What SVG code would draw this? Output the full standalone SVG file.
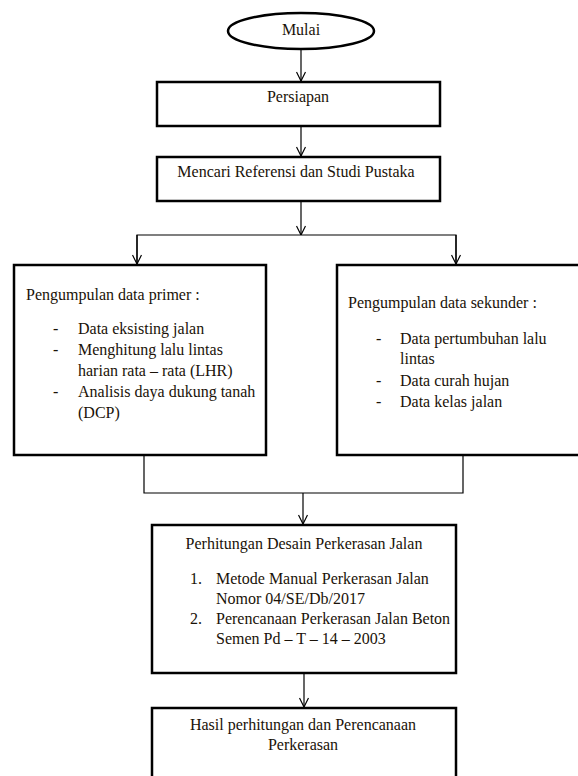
<svg xmlns="http://www.w3.org/2000/svg" width="578" height="776" viewBox="0 0 578 776">
<style>
  .box { fill: #ffffff; stroke: #000000; stroke-width: 2.5; }
  .conn { fill: none; stroke: #000000; stroke-width: 1.2; }
  text { font-family: "Liberation Serif", "Times New Roman", serif; font-size: 16px; fill: #1a1208; }
  .c { text-anchor: middle; }
</style>
<defs>
  <marker id="arr" viewBox="0 0 10 10" refX="10" refY="5" markerWidth="10" markerHeight="10" markerUnits="userSpaceOnUse" orient="auto">
    <path d="M1,0.5 L10,5 L1,9.5" fill="none" stroke="#000" stroke-width="1.2"/>
  </marker>
</defs>
<rect width="578" height="776" fill="#ffffff"/>

<g id="connectors">
  <line class="conn" x1="301" y1="49" x2="301" y2="81" marker-end="url(#arr)"/>
  <line class="conn" x1="301" y1="126" x2="301" y2="156" marker-end="url(#arr)"/>
  <line class="conn" x1="301" y1="201" x2="301" y2="235" marker-end="url(#arr)"/>
  <polyline class="conn" points="137,264 137,235 456,235 456,264"/>
  <line class="conn" x1="137" y1="235" x2="137" y2="264" marker-end="url(#arr)"/>
  <line class="conn" x1="456" y1="235" x2="456" y2="264" marker-end="url(#arr)"/>
  <polyline class="conn" points="144,455 144,493 463,493 463,455"/>
  <line class="conn" x1="303" y1="493" x2="303" y2="524" marker-end="url(#arr)"/>
  <line class="conn" x1="304" y1="673" x2="304" y2="707" marker-end="url(#arr)"/>
</g>

<g id="mulai">
  <ellipse class="box" cx="301" cy="31" rx="73" ry="18" stroke-width="2"/>
  <text class="c" x="301" y="35">Mulai</text>
</g>

<g id="persiapan">
  <rect class="box" x="157" y="82" width="283" height="44"/>
  <text class="c" x="298" y="102">Persiapan</text>
</g>

<g id="referensi">
  <rect class="box" x="157" y="157" width="283" height="44"/>
  <text class="c" x="296" y="177">Mencari Referensi dan Studi Pustaka</text>
</g>

<g id="primer">
  <rect class="box" x="14" y="265" width="252" height="190"/>
  <text x="26" y="300">Pengumpulan data primer :</text>
  <text x="53" y="334">-</text>
  <text x="78" y="334">Data eksisting jalan</text>
  <text x="53" y="355">-</text>
  <text x="78" y="355">Menghitung lalu lintas</text>
  <text x="78" y="376">harian rata – rata (LHR)</text>
  <text x="53" y="397">-</text>
  <text x="78" y="397">Analisis daya dukung tanah</text>
  <text x="78" y="418">(DCP)</text>
</g>

<g id="sekunder">
  <rect class="box" x="337" y="265" width="245" height="190"/>
  <text x="348" y="308">Pengumpulan data sekunder :</text>
  <text x="376" y="344">-</text>
  <text x="400" y="344">Data pertumbuhan lalu</text>
  <text x="400" y="364">lintas</text>
  <text x="376" y="386">-</text>
  <text x="400" y="386">Data curah hujan</text>
  <text x="376" y="407">-</text>
  <text x="400" y="407">Data kelas jalan</text>
</g>

<g id="perhitungan">
  <rect class="box" x="152" y="525" width="304" height="148"/>
  <text class="c" x="304" y="549">Perhitungan Desain Perkerasan Jalan</text>
  <text x="190" y="584">1.</text>
  <text x="216" y="584">Metode Manual Perkerasan Jalan</text>
  <text x="216" y="604">Nomor 04/SE/Db/2017</text>
  <text x="190" y="624">2.</text>
  <text x="216" y="624">Perencanaan Perkerasan Jalan Beton</text>
  <text x="216" y="644">Semen Pd – T – 14 – 2003</text>
</g>

<g id="hasil">
  <rect class="box" x="152" y="708" width="304" height="80"/>
  <text class="c" x="303" y="730">Hasil perhitungan dan Perencanaan</text>
  <text class="c" x="303" y="750">Perkerasan</text>
</g>
</svg>
